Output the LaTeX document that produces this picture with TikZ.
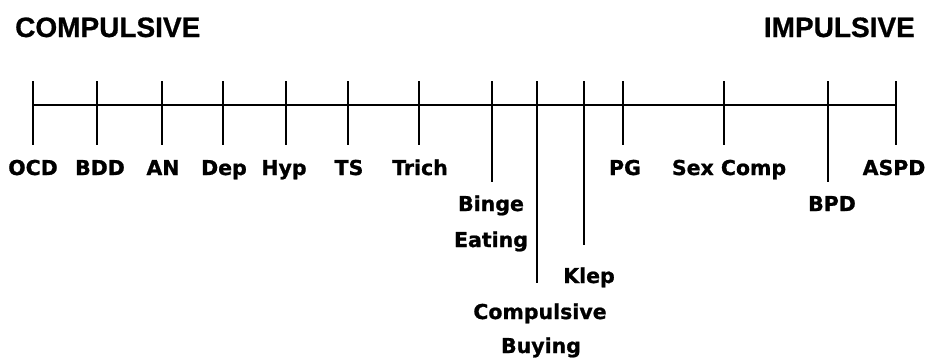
\documentclass[tikz,border=0pt]{standalone}
\usepackage{fontspec}
\newfontfamily\lblfont[FakeBold=1]{DejaVu Sans Bold}
\newfontfamily\ttlfont[FakeBold=0.8]{Liberation Sans Bold}
\tikzset{
  lbl/.style={font=\lblfont\fontsize{20.5}{24}\selectfont, anchor=base, inner sep=0pt},
  ttl/.style={font=\ttlfont\fontsize{28}{32}\selectfont, anchor=base, inner sep=0pt},
  tick/.style={line width=2.4pt},
  axis/.style={line width=2.2pt}
}
\begin{document}
\begin{tikzpicture}[x=1pt,y=-1pt]
\useasboundingbox (0,0) rectangle (927,357);
% titles
\node[ttl, anchor=base west] (comp) at (15,37) {COMPULSIVE};
\node[ttl, anchor=base east] (imp) at (915,37) {IMPULSIVE};
% tick coordinates
\foreach \n/\x/\b in {ocd/33/145, bdd/97/145, an/162/145, dep/223/145, hyp/286/145, ts/348/145, trich/419/145, binge/492/182, cb/537/283, klep/584/245, pg/623/145, sex/724/145, bpd/828/182, aspd/896/145}{
  \coordinate (\n t) at (\x,81);
  \coordinate (\n a) at (\x,105);
  \coordinate (\n b) at (\x,\b);
}
\draw[axis] (ocda) -- (aspda);
\foreach \n in {ocd,bdd,an,dep,hyp,ts,trich,binge,cb,klep,pg,sex,bpd,aspd}{
  \draw[tick] (\n t) -- (\n b);
}
% labels
\node[lbl] (l1) at (33,175) {OCD};
\node[lbl] (l2) at (100,175) {BDD};
\node[lbl] (l3) at (163,175) {AN};
\node[lbl] (l4) at (224,175) {Dep};
\node[lbl] (l5) at (284,175) {Hyp};
\node[lbl] (l6) at (349,175) {TS};
\node[lbl] (l7) at (420,175) {Trich};
\node[lbl] (l8a) at (491,211) {Binge};
\node[lbl] (l8b) at (491,247) {Eating};
\node[lbl] (l9a) at (540,319) {Compulsive};
\node[lbl] (l9b) at (541,353) {Buying};
\node[lbl] (l10) at (589,283) {Klep};
\node[lbl] (l11) at (625,175) {PG};
\node[lbl] (l12) at (729,175) {Sex Comp};
\node[lbl] (l13) at (832,211) {BPD};
\node[lbl] (l14) at (894,175) {ASPD};
\end{tikzpicture}
\end{document}
